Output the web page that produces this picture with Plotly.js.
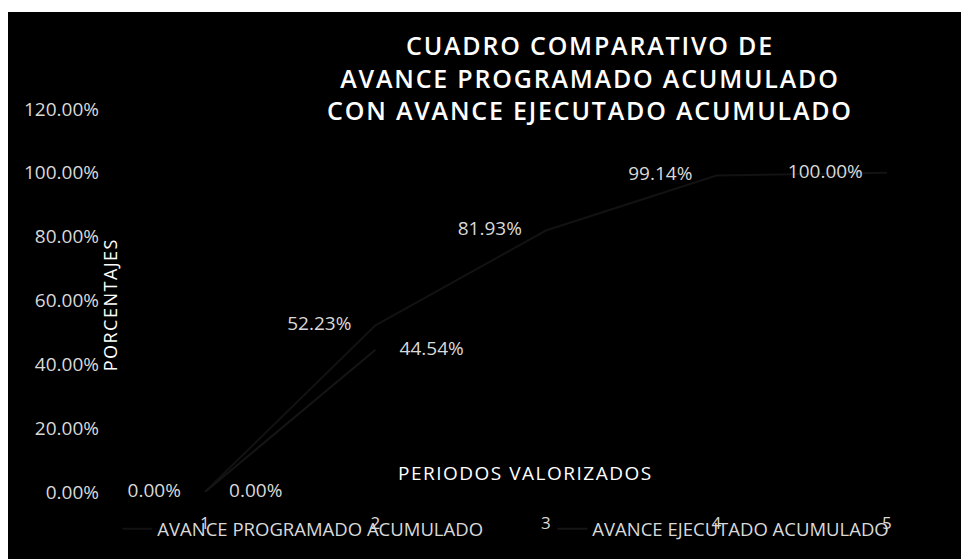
<!DOCTYPE html>
<html>
<head>
<meta charset="utf-8">
<script src="https://cdn.plot.ly/plotly-3.0.1.min.js"></script>
<style>
  html, body { margin: 0; padding: 0; background: #ffffff; }
  #chart { position: absolute; left: 8px; top: 12px; width: 953px; height: 547px; }
  #chart .gtitle { letter-spacing: 1.8px; }
  #chart .annotation-text { letter-spacing: 1.5px; }
</style>
</head>
<body>
<div id="chart"></div>
<script>
// Data
var periods = [1, 2, 3, 4, 5];
var periodLabels = ["1", "2", "3", "4", "5"];
var programado = [0.00, 52.23, 81.93, 99.14, 100.00];
var ejecutadoPeriods = [1, 2];
var ejecutado = [0.00, 44.54];
var yTicks = [0, 20, 40, 60, 80, 100, 120];
var seriesNames = ["AVANCE PROGRAMADO ACUMULADO", "AVANCE EJECUTADO ACUMULADO"];

var labelFont = { family: "Open Sans, sans-serif", size: 19, color: "#d9d9d9" };
var legendFont = { family: "Open Sans, sans-serif", size: 18.5, color: "#d9d9d9" };

var traces = [
  {
    x: periods, y: programado, name: seriesNames[0],
    type: "scatter", mode: "lines+markers+text",
    line: { color: "#121212", width: 2 },
    marker: { size: 37, color: "rgba(0,0,0,0)" },
    text: programado.map(function (v) { return v.toFixed(2) + "%"; }),
    textposition: "middle left",
    textfont: labelFont,
    cliponaxis: false,
    legend: "legend",
    hoverinfo: "x+y"
  },
  {
    x: ejecutadoPeriods, y: ejecutado, name: seriesNames[1],
    type: "scatter", mode: "lines+markers+text",
    line: { color: "#151515", width: 2 },
    marker: { size: 37, color: "rgba(0,0,0,0)" },
    text: ejecutado.map(function (v) { return v.toFixed(2) + "%"; }),
    textposition: "middle right",
    textfont: labelFont,
    cliponaxis: false,
    legend: "legend2",
    hoverinfo: "x+y"
  }
];

var layout = {
  width: 953, height: 547,
  paper_bgcolor: "#000000", plot_bgcolor: "#000000",
  margin: { l: 102, r: 6, t: 97, b: 67 },
  showlegend: true,
  title: {
    text: "CUADRO COMPARATIVO DE<br>AVANCE PROGRAMADO ACUMULADO<br>CON AVANCE EJECUTADO ACUMULADO",
    font: { family: "Open Sans, sans-serif", size: 25, color: "#ffffff", weight: 600 },
    x: 0.568, xanchor: "center", xref: "paper",
    y: 0.921, yanchor: "top", yref: "container",
    automargin: false
  },
  xaxis: {
    type: "linear",
    range: [0.443, 5.399],
    tickvals: periods, ticktext: periodLabels,
    showgrid: false, zeroline: false, showline: false, ticks: "",
    tickfont: { family: "Open Sans, sans-serif", size: 17, color: "#d9d9d9" },
    ticklabelstandoff: 19,
    fixedrange: true
  },
  yaxis: {
    range: [0, 120],
    tickvals: yTicks,
    ticktext: yTicks.map(function (v) { return v.toFixed(2) + "%"; }),
    showgrid: false, zeroline: false, showline: false, ticks: "",
    tickfont: { family: "Open Sans, sans-serif", size: 19, color: "#d9d9d9" },
    ticklabelstandoff: 10,
    fixedrange: true
  },
  legend: {
    orientation: "h",
    x: 0.0087, xanchor: "left",
    yref: "container",
    y: 0.089, yanchor: "top",
    bgcolor: "rgba(0,0,0,0)",
    font: legendFont
  },
  legend2: {
    orientation: "h",
    x: 0.5235, xanchor: "left",
    yref: "container",
    y: 0.089, yanchor: "top",
    bgcolor: "rgba(0,0,0,0)",
    font: legendFont
  },
  annotations: [
    {
      text: "PERIODOS VALORIZADOS", xref: "paper", yref: "paper",
      x: 0.492, y: 0.05, xanchor: "center", yanchor: "middle",
      showarrow: false,
      font: { family: "Open Sans, sans-serif", size: 19, color: "#ffffff" }
    },
    {
      text: "PORCENTAJES", xref: "paper", yref: "paper",
      x: 0.0, y: 0.488, xanchor: "center", yanchor: "middle",
      textangle: -90, showarrow: false,
      font: { family: "Open Sans, sans-serif", size: 18, color: "#ffffff" }
    }
  ]
};

Plotly.newPlot("chart", traces, layout, { displayModeBar: false, staticPlot: true });
</script>
</body>
</html>
